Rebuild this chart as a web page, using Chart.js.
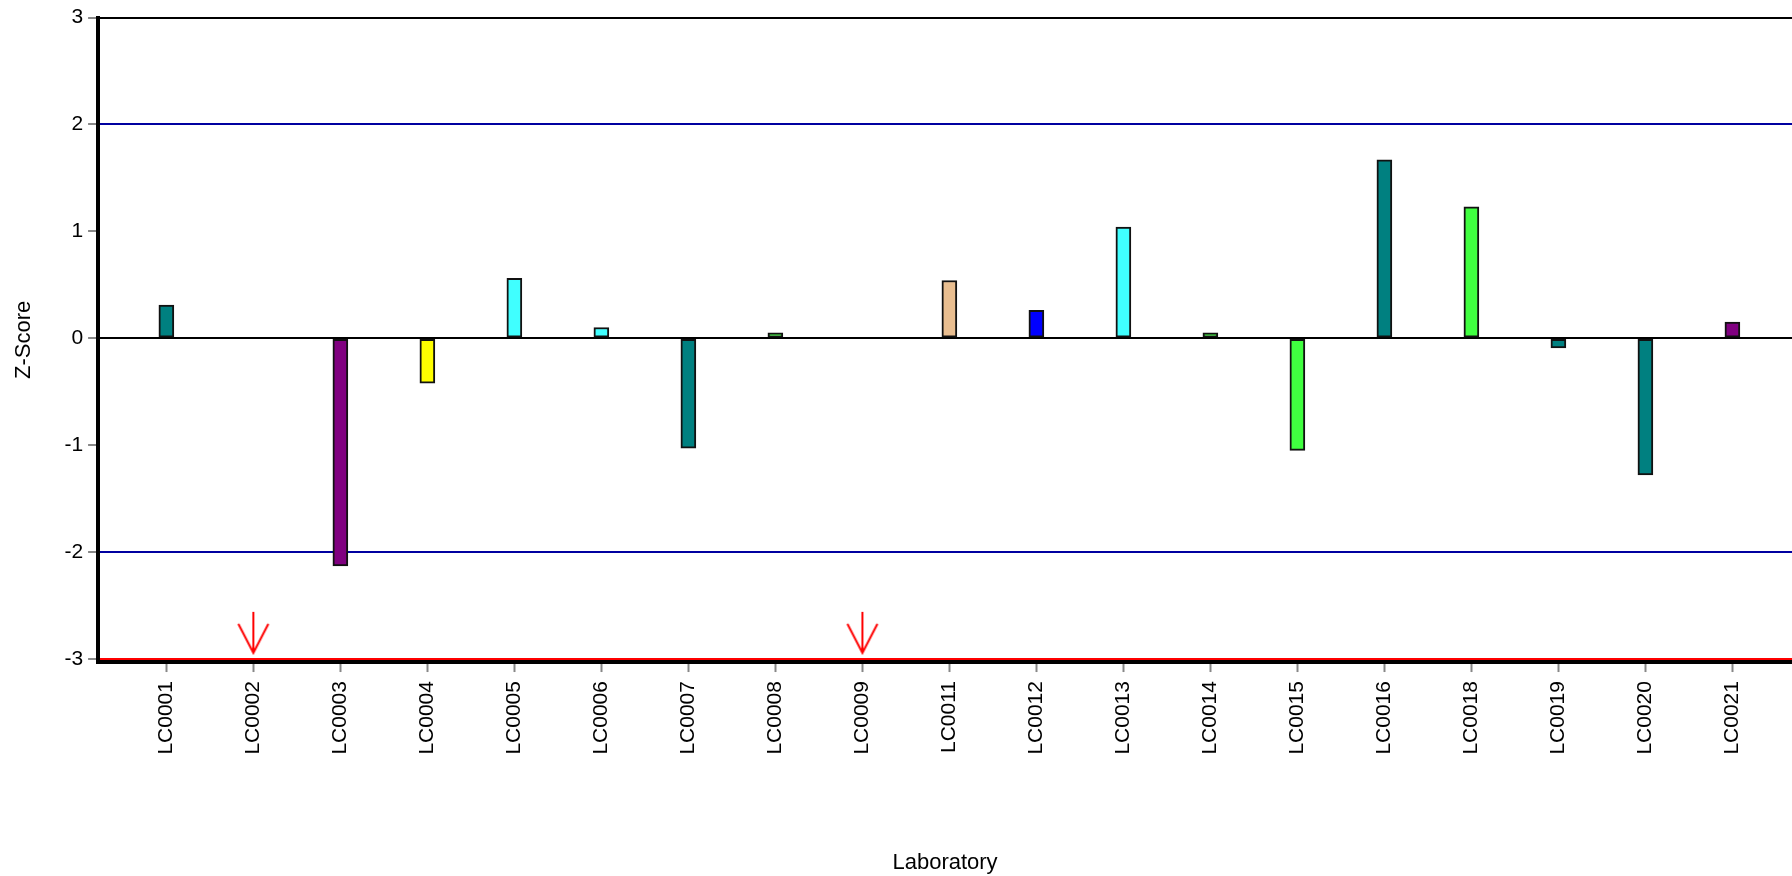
<!DOCTYPE html>
<html>
<head>
<meta charset="utf-8">
<script src="https://cdn.jsdelivr.net/npm/chart.js@4.4.1/dist/chart.umd.min.js"></script>
<style>
  html, body { margin: 0; padding: 0; background: #fff; overflow: hidden; }
  #wrap { width: 1803px; height: 876px; }
</style>
</head>
<body>
<div id="wrap"><canvas id="chart_zscore"></canvas></div>
<script>
// laboratories on the x axis
const labs = ['LC0001', 'LC0002', 'LC0003', 'LC0004', 'LC0005', 'LC0006', 'LC0007', 'LC0008', 'LC0009', 'LC0011',
              'LC0012', 'LC0013', 'LC0014', 'LC0015', 'LC0016', 'LC0018', 'LC0019', 'LC0020', 'LC0021'];
// z-scores (null = off scale, shown with an arrow)
const zScores = [0.31, null, -2.13, -0.42, 0.56, 0.10, -1.03, 0.05, null, 0.54,
                 0.26, 1.04, 0.05, -1.05, 1.67, 1.23, -0.09, -1.28, 0.15];
const barColors = ['#008080', '#008080', '#800080', '#ffff00', '#40ffff', '#40ffff', '#008080', '#40ff40', '#40ff40', '#e9be90',
                   '#0000ff', '#40ffff', '#40ff40', '#40ff40', '#008080', '#40ff40', '#008080', '#008080', '#800080'];
// labs whose score is below the axis range
const belowRange = ['LC0002', 'LC0009'];
const yTicks = [-3, -2, -1, 0, 1, 2, 3];

const FONT = "'Liberation Sans', Arial, sans-serif";

const barData = [];
zScores.forEach((v, i) => { if (v !== null) barData.push({x: i, y: v}); });
const barFill = [];
zScores.forEach((v, i) => { if (v !== null) barFill.push(barColors[i]); });
const arrowData = belowRange.map(l => ({x: labs.indexOf(l), y: -3}));

// red down arrow, tip a little above the centre of the image
function makeArrow() {
    const c = document.createElement('canvas');
    c.width = 34; c.height = 100;
    const g = c.getContext('2d');
    const tip = 44;
    g.strokeStyle = '#ff0000';
    g.lineWidth = 2;
    g.beginPath();
    g.moveTo(17, tip - 41); g.lineTo(17, tip);
    g.moveTo(2, tip - 29); g.lineTo(17, tip); g.lineTo(32, tip - 29);
    g.stroke();
    return c;
}

function lineColor(v) {
    if (v === 3 || v === 0) return '#000000';
    if (v === 2 || v === -2) return '#0000a0';
    if (v === -3) return '#ff0000';
    return 'rgba(0,0,0,0)';
}

const ctx = document.getElementById('chart_zscore').getContext('2d');

const zChart = new Chart(ctx, {
    type: 'bar',
    data: {
        datasets: [{
            type: 'scatter',
            label: 'Below range',
            data: arrowData,
            pointStyle: makeArrow(),
            pointRadius: 10,
            showLine: false
        }, {
            label: 'Z-Score',
            data: barData,
            backgroundColor: barFill,
            borderColor: '#111',
            borderWidth: 2,
            borderSkipped: false,
            barThickness: 15
        }]
    },
    options: {
        responsive: true,
        maintainAspectRatio: false,
        animation: false,
        layout: { padding: { top: 12, right: 0, left: 0, bottom: 0 } },
        plugins: { legend: { display: false }, tooltip: { enabled: false } },
        scales: {
            x: {
                type: 'linear',
                min: -0.785,
                max: 18.685,
                offset: false,
                afterBuildTicks: axis => { axis.ticks = labs.map((l, i) => ({value: i})); },
                ticks: {
                    autoSkip: false,
                    minRotation: 90,
                    maxRotation: 90,
                    padding: 9,
                    color: '#000',
                    font: { family: FONT, size: 21 },
                    callback: v => labs[v]
                },
                grid: { drawOnChartArea: false, tickColor: '#888', tickLength: 10, tickWidth: 2, offset: false },
                border: { color: '#000', width: 4 },
                title: {
                    display: true,
                    text: 'Laboratory',
                    color: '#000',
                    font: { family: FONT, size: 22 },
                    padding: { top: 86, bottom: 0 }
                }
            },
            y: {
                min: -3.03,
                max: 3,
                afterBuildTicks: axis => { axis.ticks = yTicks.map(v => ({value: v})); },
                ticks: {
                    padding: 5,
                    color: '#000',
                    font: { family: FONT, size: 21 }
                },
                grid: {
                    color: c => lineColor(c.tick.value),
                    lineWidth: 2,
                    tickColor: '#888',
                    tickLength: 10,
                    tickWidth: 2
                },
                border: { color: '#000', width: 4 },
                title: {
                    display: true,
                    text: 'Z-Score',
                    color: '#000',
                    font: { family: FONT, size: 22 },
                    padding: { top: 11, bottom: 22 }
                }
            }
        }
    }
});
</script>
</body>
</html>
